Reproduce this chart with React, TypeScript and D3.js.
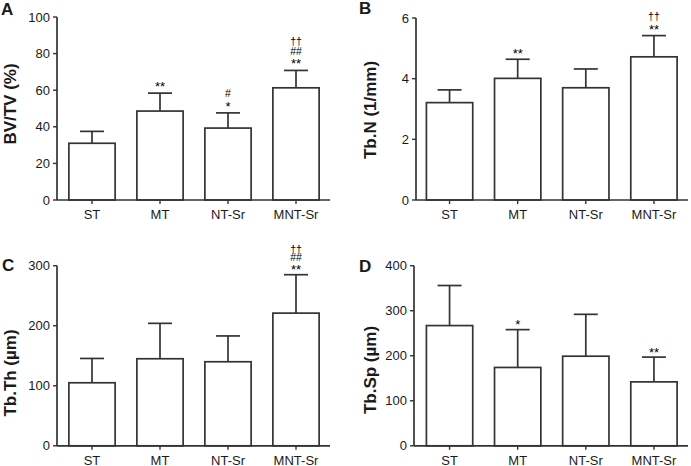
import React from "react";
import * as d3 from "d3";

const categories = ["ST", "MT", "NT-Sr", "MNT-Sr"];

const bvtvMean = [31, 48.6, 39.3, 61.3];
const bvtvSD = [6.5, 9.8, 8.3, 9.5];
const bvtvSig = [[], ["**"], ["*", "#"], ["**", "##", "††"]];
const bvtvTicks = [0, 20, 40, 60, 80, 100];

const tbnMean = [3.21, 4.01, 3.7, 4.72];
const tbnSD = [0.42, 0.63, 0.62, 0.7];
const tbnSig = [[], ["**"], [], ["**", "††"]];
const tbnTicks = [0, 2, 4, 6];

const tbthMean = [105, 145, 140, 221];
const tbthSD = [40.5, 59, 43, 64];
const tbthSig = [[], [], [], ["**", "##", "††"]];
const tbthTicks = [0, 100, 200, 300];

const tbspMean = [267, 174, 199, 142];
const tbspSD = [89, 84, 93, 55];
const tbspSig = [[], ["*"], [], ["**"]];
const tbspTicks = [0, 100, 200, 300, 400];

const FONT = "'Liberation Sans', Arial, Helvetica, sans-serif";
const INK = "#333";
const TXT = "#1a1a1a";

type PanelProps = {
  letter: string;
  label: string;
  mean: number[];
  sd: number[];
  sig: string[][];
  ticks: number[];
  axisX: number;
  bandStart: number;
  bandEnd: number;
  yTop: number;
  yBottom: number;
  labelX: number;
  labelY: number;
  letterX: number;
  letterY: number;
  sigGap: number;
  sigStep: number;
};

const glyphCenter: Record<string, number> = { "*": 0.6, "#": 0.36, "†": 0.3 };

function Panel(p: PanelProps) {
  const x = d3.scaleBand<string>().domain(categories).range([p.bandStart, p.bandEnd]).paddingInner(0).paddingOuter(0);
  const yMax = p.ticks[p.ticks.length - 1];
  const y = d3.scaleLinear().domain([0, yMax]).range([p.yBottom, p.yTop]);
  const bw = x.bandwidth() * 0.68;
  const capW = 24;
  return (
    <g>
      <text x={p.letterX} y={p.letterY} fontFamily={FONT} fontWeight="bold" fontSize={17} fill={TXT}>
        {p.letter}
      </text>
      <text
        transform={`translate(${p.labelX},${p.labelY}) rotate(-90)`}
        textAnchor="middle"
        fontFamily={FONT}
        fontWeight="bold"
        fontSize={17}
        fill={TXT}
      >
        {p.label}
      </text>
      {categories.map((c, i) => {
        const cx = (x(c) as number) + x.bandwidth() / 2;
        const top = y(p.mean[i]);
        const up = y(p.mean[i] + p.sd[i]);
        return (
          <g key={c}>
            <line x1={cx} x2={cx} y1={top} y2={up} stroke={INK} strokeWidth={1.7} />
            <line x1={cx - capW / 2} x2={cx + capW / 2} y1={up} y2={up} stroke={INK} strokeWidth={1.7} />
            <rect x={cx - bw / 2} y={top} width={bw} height={p.yBottom - top} fill="#fff" stroke={INK} strokeWidth={1.7} />
            {p.sig[i].map((s, j) => {
              const fs = s.includes("*") ? 13 : 10.5;
              const center = up - p.sigGap - j * p.sigStep;
              const off = glyphCenter[s[0]] ?? 0.4;
              return (
                <text key={j} x={cx} y={center + off * fs} textAnchor="middle" fontFamily={FONT} fontSize={fs} fill="#000">
                  {s}
                </text>
              );
            })}
          </g>
        );
      })}
      <line x1={p.axisX} x2={p.axisX} y1={p.yBottom} y2={y(yMax)} stroke={INK} strokeWidth={1.7} />
      <line x1={p.axisX} x2={p.bandEnd} y1={p.yBottom} y2={p.yBottom} stroke={INK} strokeWidth={1.7} />
      {p.ticks.map((t) => (
        <g key={t}>
          <line x1={p.axisX - 4} x2={p.axisX} y1={y(t)} y2={y(t)} stroke={INK} strokeWidth={1.4} />
          <text x={p.axisX - 7} y={y(t)} dy="0.36em" textAnchor="end" fontFamily={FONT} fontSize={13} fill={TXT}>
            {t}
          </text>
        </g>
      ))}
      {categories.map((c) => {
        const cx = (x(c) as number) + x.bandwidth() / 2;
        return (
          <g key={c}>
            <line x1={cx} x2={cx} y1={p.yBottom} y2={p.yBottom + 4} stroke={INK} strokeWidth={1.4} />
            <text x={cx} y={p.yBottom + 19} textAnchor="middle" fontFamily={FONT} fontSize={13} fill={TXT}>
              {c}
            </text>
          </g>
        );
      })}
    </g>
  );
}

export default function App() {
  return (
    <svg width={691} height={466} style={{ position: "absolute", left: 0, top: 0, background: "#fff" }}>
      <Panel letter="A" label="BV/TV (%)" mean={bvtvMean} sd={bvtvSD} sig={bvtvSig} ticks={bvtvTicks}
        axisX={57} bandStart={58} bandEnd={330} yTop={17} yBottom={200} labelX={16} labelY={104} letterX={1} letterY={15} sigGap={10} sigStep={9.5} />
      <Panel letter="B" label="Tb.N (1/mm)" mean={tbnMean} sd={tbnSD} sig={tbnSig} ticks={tbnTicks}
        axisX={416} bandStart={415.5} bandEnd={688} yTop={18} yBottom={200} labelX={376} labelY={110} letterX={359} letterY={14} sigGap={9} sigStep={9.5} />
      <Panel letter="C" label="Tb.Th (µm)" mean={tbthMean} sd={tbthSD} sig={tbthSig} ticks={tbthTicks}
        axisX={57} bandStart={58} bandEnd={330} yTop={265.7} yBottom={445.8} labelX={16} labelY={373} letterX={2} letterY={271} sigGap={9} sigStep={8} />
      <Panel letter="D" label="Tb.Sp (µm)" mean={tbspMean} sd={tbspSD} sig={tbspSig} ticks={tbspTicks}
        axisX={414} bandStart={415.5} bandEnd={688} yTop={265.7} yBottom={445.8} labelX={376} labelY={370} letterX={359} letterY={272} sigGap={8} sigStep={9} />
    </svg>
  );
}
